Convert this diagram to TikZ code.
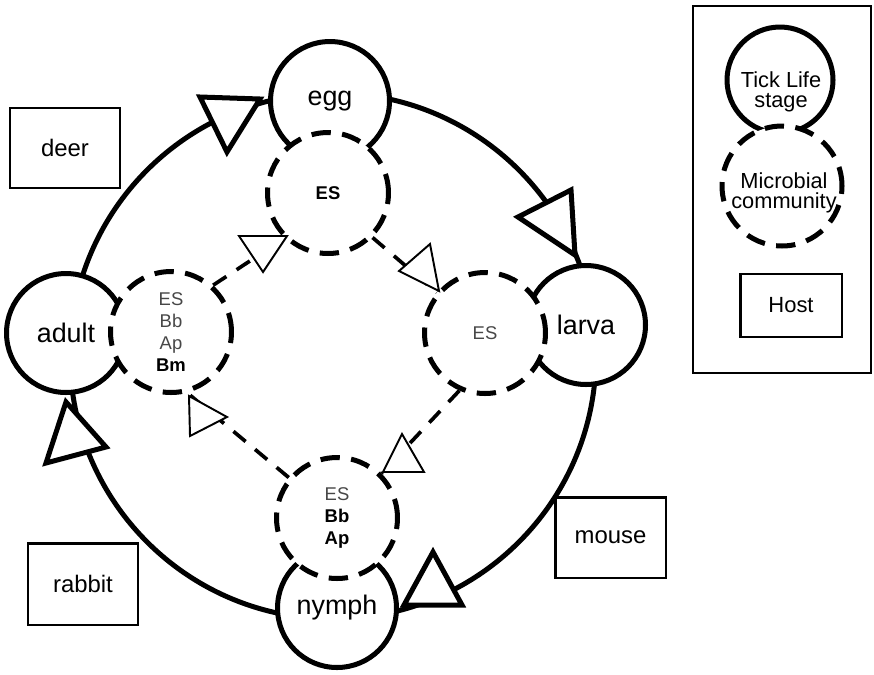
\documentclass[tikz,border=0pt]{standalone}
\usepackage{fontspec}
\setmainfont{Liberation Sans}
\definecolor{lbl}{gray}{0.28}
\begin{document}
\begin{tikzpicture}[x=0.02cm,y=-0.02cm,
  ring/.style={line width=2.85pt},
  stage/.style={circle, draw, line width=2.85pt, fill=white, minimum size=2.38cm, inner sep=0pt, font=\fontsize{15.3}{18}\selectfont},
  micro/.style={circle, draw, line width=2.85pt, dash pattern=on 11pt off 6.5pt, fill=white, minimum size=2.42cm, inner sep=0pt, align=center, font=\fontsize{10.5}{12.5}\selectfont, text=lbl},
  hostbox/.style={draw, line width=1.4pt, inner sep=0pt, font=\fontsize{13.6}{16}\selectfont},
  flow/.style={line width=2.1pt, dash pattern=on 9pt off 7pt},
  bigtip/.style={draw, line width=2.85pt, fill=white, line join=miter},
  smalltip/.style={draw, line width=1.1pt, fill=white, line join=miter},
  legtext/.style={align=center, inner sep=0pt, font=\fontsize{12.4}{11.2}\selectfont}
]
\useasboundingbox (0,0) rectangle (874,674);

% life cycle ring
\coordinate (ringc) at (333,356);
\draw[ring] (ringc) circle [radius=5.26cm];

% host boxes
\node[hostbox, minimum width=2.19cm, minimum height=1.59cm] (deer) at (65,148) {deer};
\node[hostbox, minimum width=2.19cm, minimum height=1.63cm] (rabbit) at (83,584) {rabbit};
\node[hostbox, minimum width=2.21cm, minimum height=1.61cm] (mouse) at (610.5,537.5) {mouse};

% tick life stages
\node[stage] (egg) at (330,101) {egg};
\node[stage] (larva) at (586,325) {larva};
\node[stage] (nymph) at (337,608) {nymph};
\node[stage] (adult) at (66,333) {adult};

% microbial communities
\node[micro] (eggD) at (328,193) {\textbf{\color{black}ES}};
\node[micro] (larvaD) at (485,333) {ES};
\node[micro] (nymphD) at (337,518) {ES\\\textbf{\color{black}Bb}\\\textbf{\color{black}Ap}};
\node[micro] (adultD) at (171,332) {ES\\Bb\\Ap\\\textbf{\color{black}Bm}};

% big arrowheads on the ring
\draw[bigtip] (200,97) -- (260,99) -- (227,152) -- cycle;
\draw[bigtip] (518,217) -- (571,190) -- (575,255) -- cycle;
\draw[bigtip] (433,552) -- (462,605) -- (404,605) -- cycle;
\draw[bigtip] (66,402) -- (46,463) -- (106,447) -- cycle;

% microbial transmission
\draw[flow] (adultD.48) -- (eggD.226);
\draw[flow] (eggD.-45) -- (larvaD.140);
\draw[flow] (larvaD.246) -- (nymphD.45);
\draw[flow] (nymphD.140) -- (adultD.-75);

\draw[smalltip] (239,236) -- (287,236) -- (263,272) -- cycle;
\draw[smalltip] (399,271) -- (430,244) -- (439,291) -- cycle;
\draw[smalltip] (402,434) -- (424,472) -- (383,472) -- cycle;
\draw[smalltip] (189,396) -- (227,417) -- (190,436) -- cycle;

% legend
\draw[line width=1.4pt] (693,6) rectangle (871,373);
\node[circle, draw, line width=2.85pt, fill=white, minimum size=2.12cm, inner sep=0pt] (legstage) at (780,80) {};
\node[circle, draw, line width=2.85pt, dash pattern=on 11pt off 6.5pt, fill=white, minimum size=2.4cm, inner sep=0pt] (legmicro) at (782,186) {};
\node[legtext] (legstagetext) at (781,92) {Tick Life\\stage};
\node[legtext] (legmicrotext) at (784,193) {Microbial\\community};
\node[hostbox, minimum width=2.03cm, minimum height=1.25cm, font=\fontsize{12.5}{15}\selectfont] (leghost) at (791,305.5) {Host};
\end{tikzpicture}
\end{document}
